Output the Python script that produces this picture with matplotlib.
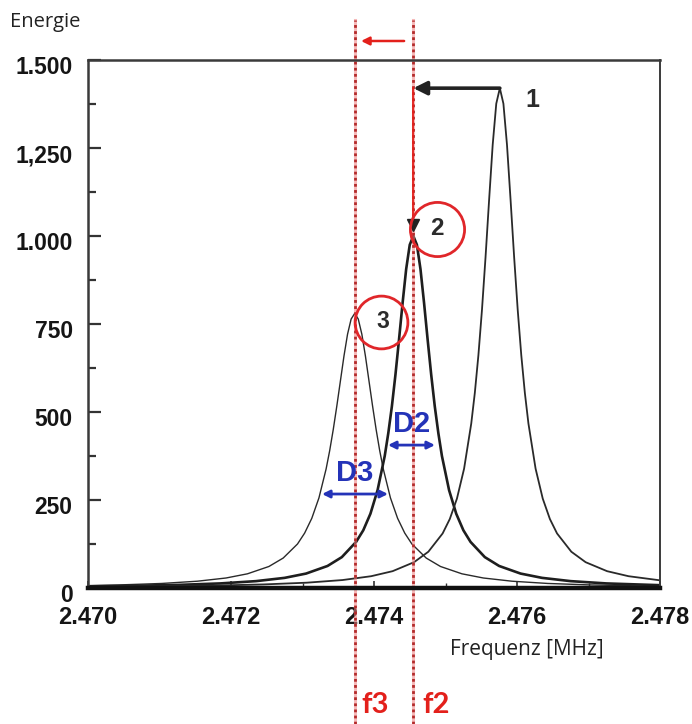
import matplotlib.pyplot as plt
from matplotlib.transforms import ScaledTranslation

# resonance curves (frequency in MHz, energy)
freq_1 = [2.4700, 2.47076, 2.47176, 2.47246, 2.47306, 2.47356, 2.47396, 2.47426,
          2.47456, 2.47476, 2.47496, 2.47506, 2.47516, 2.47526, 2.47536, 2.47541,
          2.47546, 2.47551, 2.47556, 2.47561, 2.47566, 2.47571, 2.47576, 2.47581,
          2.47586, 2.47591, 2.47596, 2.47601, 2.47606, 2.47611, 2.47616, 2.47626,
          2.47636, 2.47646, 2.47656, 2.47676, 2.47696, 2.47726, 2.47756, 2.4780]
energy_1 = [3.4, 4.4, 6.9, 10.2, 15.1, 22.6, 33.5, 47.8,
            73.3, 103, 155, 196, 254, 339, 467, 554,
            661, 790, 940, 1103, 1259, 1376, 1420, 1376,
            1259, 1103, 940, 790, 661, 554, 467, 339,
            254, 196, 155, 103, 73.3, 47.8, 33.5, 21.8]

freq_2 = [2.4700, 2.47055, 2.47125, 2.47185, 2.47235, 2.47275, 2.47305, 2.47335,
          2.47355, 2.47375, 2.47385, 2.47395, 2.47405, 2.47415, 2.47420, 2.47425,
          2.47430, 2.47435, 2.47440, 2.47445, 2.47450, 2.47455, 2.47460, 2.47465,
          2.47470, 2.47475, 2.47480, 2.47485, 2.47490, 2.47495, 2.47505, 2.47515,
          2.47525, 2.47535, 2.47555, 2.47575, 2.47605, 2.47635, 2.47675, 2.47725,
          2.4780]
energy_2 = [4.6, 6.0, 8.75, 13.0, 19.5, 28.8, 41.0, 62.6,
            87.7, 131, 164, 211, 278, 375, 440, 516,
            606, 706, 810, 906, 975, 1000, 975, 906,
            810, 706, 606, 516, 440, 375, 278, 211,
            164, 131, 87.7, 62.6, 41.0, 28.8, 19.5, 13.0,
            8.0]

freq_3 = [2.4700, 2.47043, 2.47103, 2.47153, 2.47193, 2.47223, 2.47253, 2.47273,
          2.47293, 2.47303, 2.47313, 2.47323, 2.47333, 2.47338, 2.47343, 2.47348,
          2.47353, 2.47358, 2.47363, 2.47368, 2.47373, 2.47378, 2.47383, 2.47388,
          2.47393, 2.47398, 2.47403, 2.47408, 2.47413, 2.47423, 2.47433, 2.47443,
          2.47453, 2.47473, 2.47493, 2.47523, 2.47553, 2.47593, 2.47643, 2.47703,
          2.47773, 2.4780]
energy_3 = [6.8, 8.68, 12.9, 19.3, 28.4, 40.3, 61.1, 85.1,
            125, 156, 198, 256, 338, 390, 450, 517,
            588, 659, 721, 764, 780, 764, 721, 659,
            588, 517, 450, 390, 338, 256, 198, 156,
            125, 85.1, 61.1, 40.3, 28.4, 19.3, 12.9, 8.68,
            5.93, 5.2]

f3 = 2.47373
f2 = 2.47455

x_ticks = [2.470, 2.472, 2.474, 2.476, 2.478]
x_labels = ['2.470', '2.472', '2.474', '2.476', '2.478']
y_ticks = [0, 250, 500, 750, 1000, 1250, 1500]
y_labels = ['0', '250', '500', '750', '1.000', '1,250', '1.500']

fig = plt.figure(figsize=(6.92, 7.24), dpi=100)
ax = fig.add_axes([88 / 692, 136 / 724, 572 / 692, 528 / 724])

ax.plot(freq_3, energy_3, color='#2a2a2a', lw=1.0)
ax.plot(freq_2, energy_2, color='#1e1e1e', lw=1.9)
ax.plot(freq_1, energy_1, color='#2a2a2a', lw=1.3)

ax.set_xlim(2.470, 2.478)
ax.set_ylim(0, 1500)
ax.set_xticks(x_ticks)
ax.set_xticklabels(x_labels)
ax.set_xticks([2.471, 2.473, 2.475, 2.477], minor=True)
ax.set_yticks(y_ticks)
ax.set_yticklabels(y_labels)
ax.set_yticks([125, 375, 625, 875, 1125, 1375], minor=True)

ax.tick_params(axis='y', which='major', direction='in', length=9.5, width=1.6,
               color='#333333', pad=11, labelsize=16.5)
ax.tick_params(axis='y', which='minor', direction='in', length=6, width=1.6, color='#333333')
ax.tick_params(axis='x', which='major', direction='in', length=5, width=1.2,
               color='#333333', pad=13, labelsize=17)
ax.tick_params(axis='x', which='minor', direction='in', length=3.5, width=1.0, color='#333333')
for lab in ax.get_xticklabels() + ax.get_yticklabels():
    lab.set_fontweight('bold')
    lab.set_family(['Liberation Sans', 'DejaVu Sans'])
    lab.set_color('#151515')
shift = ScaledTranslation(0, -5 / 100, fig.dpi_scale_trans)
for lab in ax.get_yticklabels():
    lab.set_transform(lab.get_transform() + shift)

ax.spines['top'].set_linewidth(1.8)
ax.spines['left'].set_linewidth(1.8)
ax.spines['right'].set_linewidth(1.4)
ax.spines['bottom'].set_linewidth(3.2)
for s in ['top', 'left', 'right']:
    ax.spines[s].set_color('#3a3a3a')
ax.spines['bottom'].set_color('#111111')

# f3 / f2 marker lines running past the frame
for f in (f3, f2):
    ax.axvline(f, ymin=-0.258, ymax=1.076, color='#f08080', lw=2.2, alpha=0.55, clip_on=False)
    ax.axvline(f, ymin=-0.258, ymax=1.076, color='#b22a2a', lw=2.0, ls=(0, (1, 1.2)), clip_on=False)

# shift arrow above the frame
ax.annotate('', xy=(2.47378, 1554), xytext=(2.47446, 1554),
            arrowprops=dict(arrowstyle='-|>', color='#e3201b', lw=1.8, mutation_scale=12),
            annotation_clip=False)

# peak 1 -> f2
ax.annotate('', xy=(f2, 1420), xytext=(2.47576, 1420),
            arrowprops=dict(arrowstyle='-|>', color='#222222', lw=2.6, mutation_scale=20,
                            shrinkA=0, shrinkB=0))
ax.plot([f2, f2], [1420, 1030], color='#e3201b', lw=1.3)
ax.plot([f2], [1030], marker='v', color='#222222', markersize=9)

ax.text(2.47622, 1386, '1', fontsize=18, fontweight='bold', color='#2b2b2b',
        ha='center', va='center', family=['Liberation Sans', 'DejaVu Sans'])
ax.plot([2.47488], [1020], marker='o', markersize=39, mfc='none', mec='#e0262a', mew=2.0)
ax.text(2.47488, 1020, '2', fontsize=17.5, fontweight='bold', color='#2b2b2b',
        ha='center', va='center', family=['Liberation Sans', 'DejaVu Sans'])
ax.plot([2.47410], [756], marker='o', markersize=38, mfc='none', mec='#e0262a', mew=2.0)
ax.text(2.47412, 756, '3', fontsize=16.5, fontweight='bold', color='#2b2b2b',
        ha='center', va='center', family=['Liberation Sans', 'DejaVu Sans'])

# widths D2 / D3
blue = '#2433b8'
ax.annotate('', xy=(2.474196, 406), xytext=(2.474853, 406),
            arrowprops=dict(arrowstyle='<|-|>', color=blue, lw=2.0, mutation_scale=11,
                            shrinkA=0, shrinkB=0))
ax.text(2.47452, 466, 'D2', fontsize=21, fontweight='bold', color=blue,
        ha='center', va='center', family=['Liberation Sans', 'DejaVu Sans'])
ax.annotate('', xy=(2.473273, 267), xytext=(2.474196, 267),
            arrowprops=dict(arrowstyle='<|-|>', color=blue, lw=2.0, mutation_scale=11,
                            shrinkA=0, shrinkB=0))
ax.text(2.47373, 327, 'D3', fontsize=21, fontweight='bold', color=blue,
        ha='center', va='center', family=['Liberation Sans', 'DejaVu Sans'])

ax.text(2.47401, -332, 'f3', fontsize=21, fontweight='bold', color='#e3201b',
        ha='center', va='center', family=['Lato', 'DejaVu Sans'])
ax.text(2.47487, -332, 'f2', fontsize=21, fontweight='bold', color='#e3201b',
        ha='center', va='center', family=['Lato', 'DejaVu Sans'])

fig.text(10 / 692, 1 - 22 / 724, 'Energie', fontsize=14.5, color='#222222',
         ha='left', va='center', family=['Open Sans', 'DejaVu Sans'])
fig.text(527 / 692, 1 - 650 / 724, 'Frequenz [MHz]', fontsize=15, color='#222222',
         ha='center', va='center', family=['Open Sans', 'DejaVu Sans'])

fig.savefig('out.png', dpi=100)
